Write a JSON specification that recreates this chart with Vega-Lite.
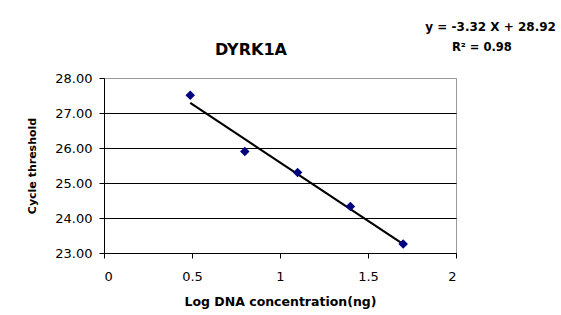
{
  "$schema": "https://vega.github.io/schema/vega-lite/v6.json",
  "autosize": "none",
  "width": 352,
  "height": 175,
  "padding": {"left": 104, "top": 78, "right": 105, "bottom": 62},
  "background": "white",
  "config": {
    "view": {"stroke": "#9a9a9a", "strokeWidth": 1},
    "font": "DejaVu Sans"
  },
  "data": {
    "values": [
      {"x": 0.49, "y": 27.51},
      {"x": 0.8, "y": 25.9},
      {"x": 1.1, "y": 25.3},
      {"x": 1.4, "y": 24.33},
      {"x": 1.7, "y": 23.26}
    ]
  },
  "layer": [
    {
      "transform": [
        {"regression": "y", "on": "x", "extent": [0.49, 1.7]}
      ],
      "mark": {"type": "line", "color": "black", "strokeWidth": 2.2},
      "encoding": {
        "x": {
          "field": "x",
          "type": "quantitative",
          "scale": {"domain": [0, 2], "nice": false, "zero": false},
          "axis": {
            "title": "Log DNA concentration(ng)",
            "titleFont": "DejaVu Sans",
            "titleFontSize": 12.5,
            "titleFontWeight": "bold",
            "titleColor": "black",
            "titlePadding": 12,
            "values": [0, 0.5, 1, 1.5, 2],
            "tickCount": 5,
            "format": "~g",
            "labelFont": "DejaVu Sans",
            "labelFontSize": 13,
            "labelColor": "black",
            "labelPadding": 12,
            "labelOverlap": false,
            "tickSize": 5,
            "tickColor": "black",
            "domainColor": "black",
            "grid": false
          }
        },
        "y": {
          "field": "y",
          "type": "quantitative",
          "scale": {"domain": [23, 28], "nice": false, "zero": false},
          "axis": {
            "title": "Cycle threshold",
            "titleFont": "DejaVu Sans",
            "titleFontSize": 11,
            "titleFontWeight": "bold",
            "titleColor": "black",
            "titlePadding": 17,
            "values": [23, 24, 25, 26, 27, 28],
            "tickCount": 6,
            "format": ".2f",
            "labelFont": "DejaVu Sans",
            "labelFontSize": 13,
            "labelColor": "black",
            "labelPadding": 7,
            "labelOverlap": false,
            "tickSize": 5,
            "tickColor": "black",
            "domainColor": "black",
            "grid": true,
            "gridColor": {"condition": {"test": "datum.value == 28", "value": "#9a9a9a"}, "value": "black"},
            "gridOpacity": 1
          }
        }
      }
    },
    {
      "mark": {"type": "point", "shape": "diamond", "filled": true, "color": "#000080", "size": 90, "opacity": 1},
      "encoding": {
        "x": {"field": "x", "type": "quantitative"},
        "y": {"field": "y", "type": "quantitative"}
      }
    },
    {
      "data": {"values": [{"label": "DYRK1A"}]},
      "mark": {"type": "text", "align": "center", "baseline": "middle", "font": "DejaVu Sans", "fontSize": 16, "fontWeight": "bold", "color": "black"},
      "encoding": {
        "x": {"datum": 0.835, "type": "quantitative"},
        "y": {"datum": 28.8, "type": "quantitative"},
        "text": {"field": "label"}
      }
    },
    {
      "data": {"values": [{"label": "y = -3.32 X + 28.92"}]},
      "mark": {"type": "text", "align": "right", "baseline": "middle", "font": "DejaVu Sans", "fontSize": 12, "fontWeight": "bold", "color": "black"},
      "encoding": {
        "x": {"datum": 2.568, "type": "quantitative"},
        "y": {"datum": 29.45, "type": "quantitative"},
        "text": {"field": "label"}
      }
    },
    {
      "data": {"values": [{"label": "R² = 0.98"}]},
      "mark": {"type": "text", "align": "center", "baseline": "middle", "font": "DejaVu Sans", "fontSize": 11.5, "fontWeight": "bold", "color": "black"},
      "encoding": {
        "x": {"datum": 2.147, "type": "quantitative"},
        "y": {"datum": 28.86, "type": "quantitative"},
        "text": {"field": "label"}
      }
    }
  ]
}
